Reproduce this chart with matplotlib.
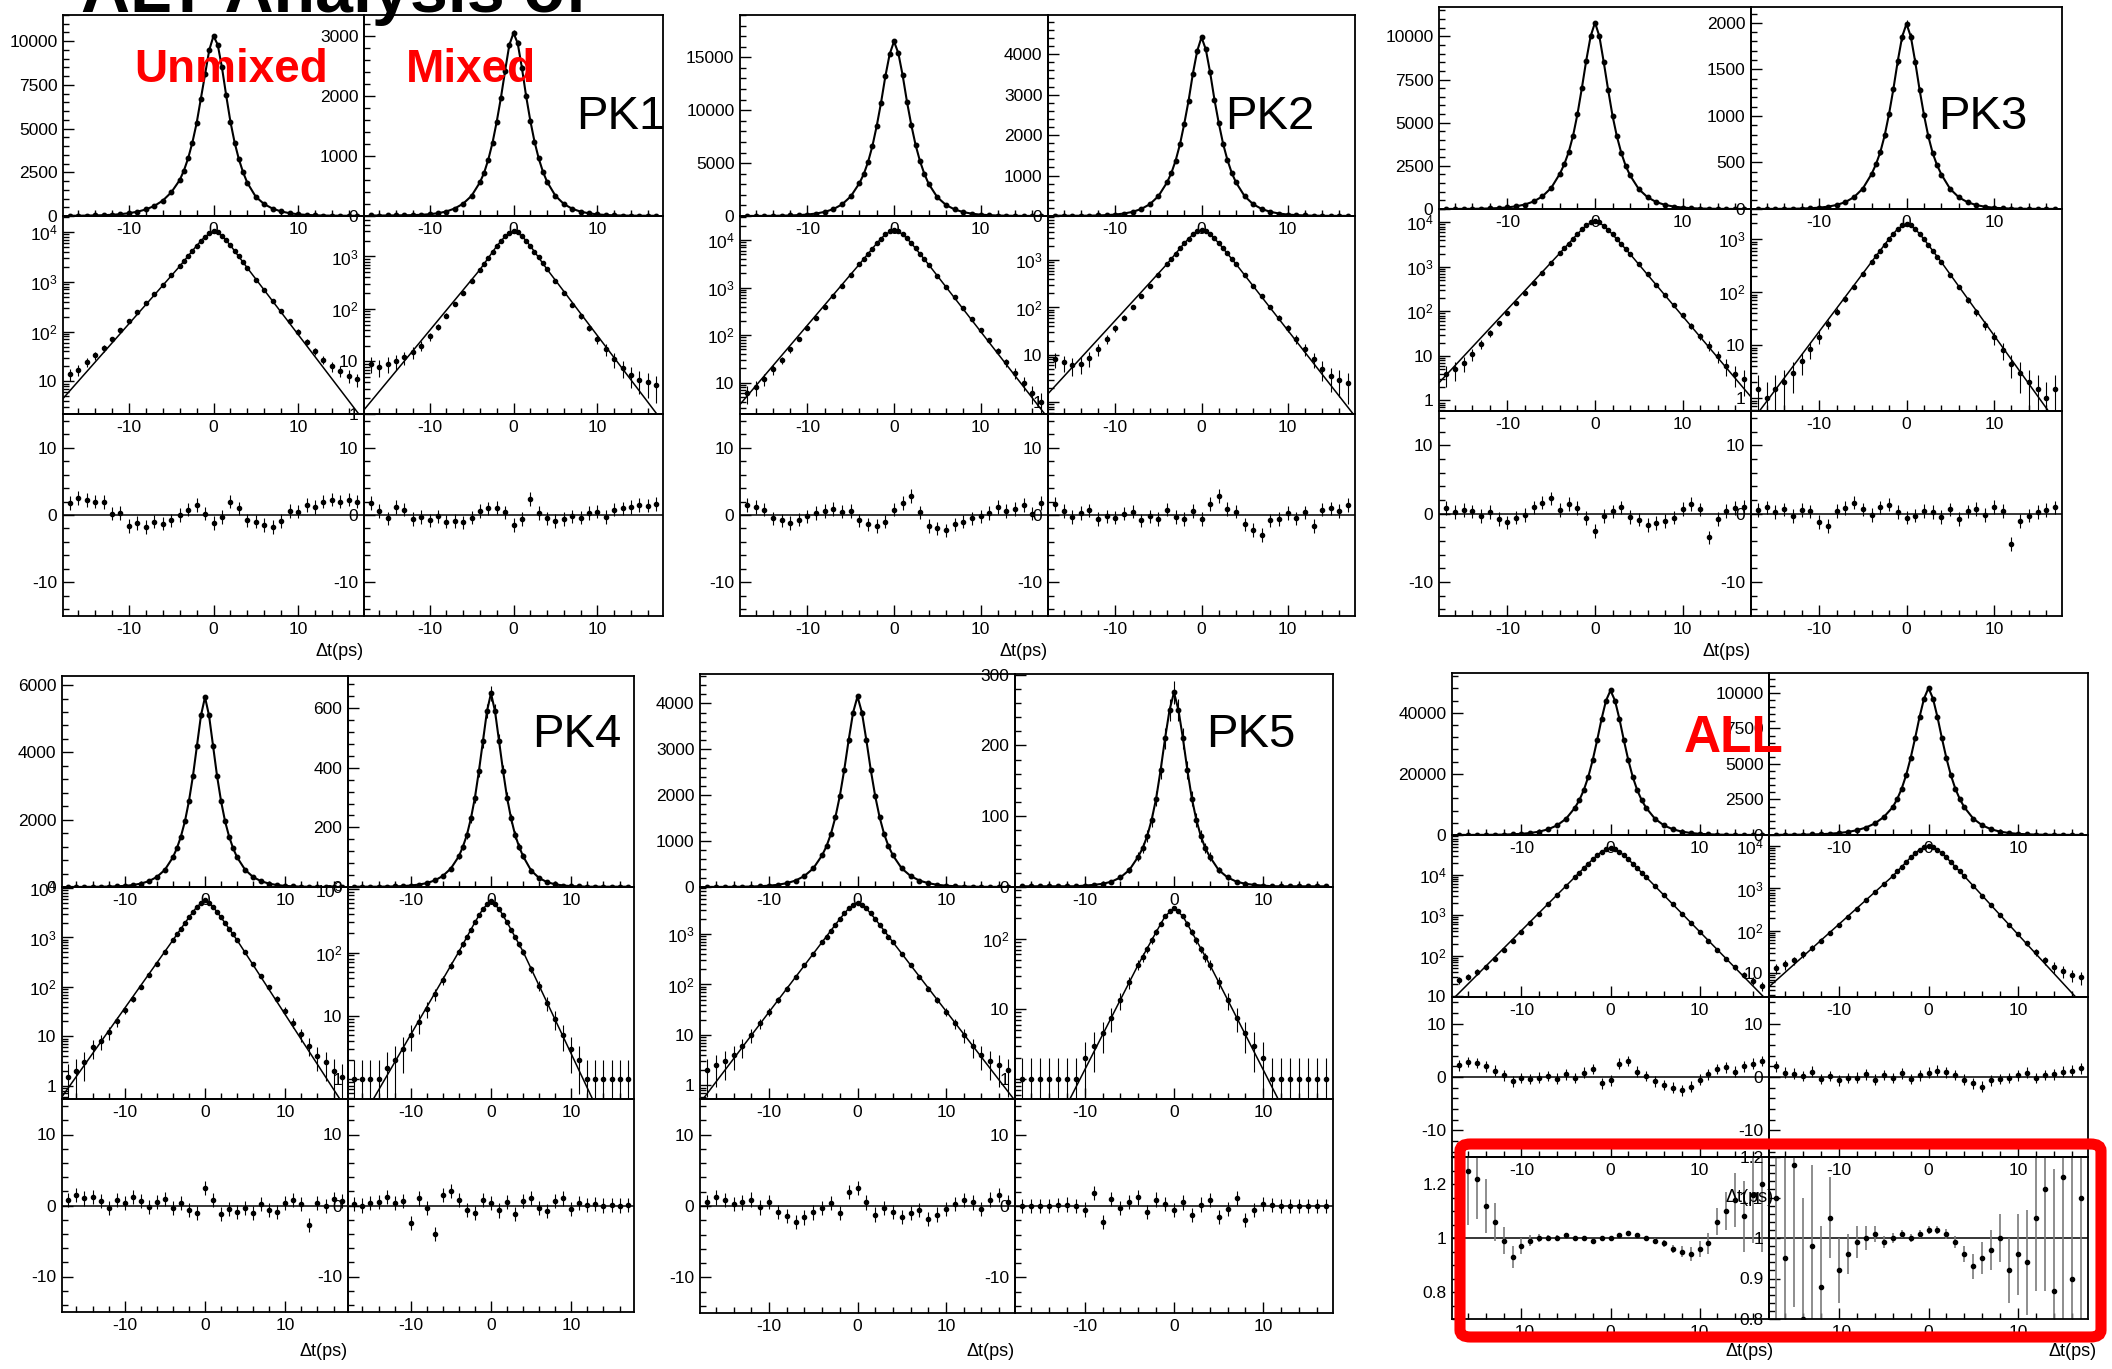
import numpy as np
import matplotlib.pyplot as plt
from matplotlib.ticker import MultipleLocator, LogLocator, FuncFormatter, NullFormatter
from matplotlib.patches import FancyBboxPatch

plt.rcParams['font.family'] = ['Liberation Sans', 'DejaVu Sans']
plt.rcParams['axes.unicode_minus'] = False
plt.rcParams['mathtext.fontset'] = 'custom'
plt.rcParams['mathtext.rm'] = 'Liberation Sans'
plt.rcParams['mathtext.it'] = 'Liberation Sans:italic'

# ---------------- data ----------------
# time bins (ps) of the count histograms
t_cnt = [-17, -16, -15, -14, -13, -12, -11, -10, -9, -8, -7, -6, -5, -4,
         -3.5, -3, -2.5, -2, -1.5, -1, -0.5, 0, 0.5, 1, 1.5, 2, 2.5, 3, 3.5,
         4, 5, 6, 7, 8, 9, 10, 11, 12, 13, 14, 15, 16, 17]
# knots of the fitted curve (straight on the log plots)
t_fit = [-17.8, -4, -2, -1, 0, 1, 2, 4, 17.8]
# time bins of the residual / ratio points
t_res = list(range(-17, 18))

pk1_unmixed = [14, 17, 24, 33, 46, 70, 105, 160, 245, 375, 575, 880, 1350, 2050,
               2600, 3300, 4200, 5300, 6700, 8100, 9500, 10300, 9800, 8500, 6900, 5400, 4200, 3250, 2500,
               1900, 1100, 680, 420, 260, 160, 100, 62, 40, 27, 20, 16, 13, 11]
pk1_mixed = [9, 8, 9, 10, 12, 15, 20, 30, 46, 75, 125, 205, 335, 560,
             720, 940, 1220, 1570, 1970, 2420, 2850, 3050, 2880, 2470, 2000, 1590, 1240, 960, 740,
             570, 335, 200, 120, 72, 44, 27, 17, 11, 7.5, 5.5, 4.5, 4, 3.5]
pk2_unmixed = [6, 8, 12, 19, 30, 50, 84, 140, 235, 390, 650, 1100, 1850, 3100,
               3950, 5100, 6600, 8500, 10700, 13200, 15300, 16500, 15400, 13300, 10800, 8600, 6700, 5200, 4000,
               3050, 1780, 1050, 620, 370, 220, 130, 78, 46, 27, 16, 10, 6, 4]
pk2_mixed = [8, 7, 6, 6.5, 8.5, 13, 22, 36, 61, 102, 172, 290, 490, 830,
             1060, 1370, 1770, 2280, 2850, 3520, 4080, 4420, 4120, 3550, 2880, 2300, 1790, 1390, 1070,
             830, 490, 290, 172, 102, 61, 36, 22, 13, 8, 5, 3.5, 3, 2.5]
pk3_unmixed = [4, 5, 7, 11, 19, 33, 55, 92, 155, 260, 435, 730, 1220, 2050,
               2600, 3300, 4250, 5500, 7000, 8600, 10000, 10800, 10000, 8500, 6900, 5400, 4200, 3250, 2500,
               1950, 1150, 680, 400, 235, 140, 82, 48, 28, 17, 10, 6, 4, 3]
pk3_mixed = [1.5, 1, 1.5, 2, 3, 5, 8.4, 14.5, 25, 43, 74, 128, 220, 375,
             480, 610, 790, 1020, 1290, 1590, 1850, 1990, 1850, 1580, 1280, 1010, 780, 600, 470,
             370, 215, 125, 72, 42, 24, 14, 8, 4.5, 3, 2, 1.5, 1, 1.5]
pk4_unmixed = [1.5, 2, 3, 6, 8, 12, 20, 34, 58, 100, 172, 297, 510, 880,
               1150, 1500, 1950, 2550, 3300, 4200, 5100, 5640, 5100, 4200, 3300, 2550, 1950, 1500, 1150,
               880, 510, 295, 170, 99, 57, 33, 19, 11, 6.5, 4, 3, 2, 1.5]
pk4_mixed = [1, 1, 1, 1, 1.5, 2, 3, 5, 8, 13, 22, 37, 62, 103,
             135, 175, 230, 300, 390, 490, 590, 650, 590, 490, 390, 300, 230, 175, 135,
             103, 55, 30, 16, 9, 5, 3, 2, 1, 1, 1, 1, 1, 1]
pk5_unmixed = [2, 2.5, 3, 4, 6, 10, 17, 29, 49, 83, 140, 240, 405, 690,
               890, 1160, 1520, 1980, 2550, 3200, 3800, 4150, 3800, 3200, 2550, 1980, 1520, 1160, 890,
               690, 405, 240, 140, 83, 49, 29, 17, 10, 6, 4, 3, 2.5, 2]
pk5_mixed = [1, 1, 1, 1, 1, 1, 1, 2, 3, 4.5, 7.5, 13.5, 24, 43,
             55, 72, 95, 125, 165, 210, 250, 275, 250, 210, 165, 125, 95, 72, 55,
             43, 24, 13.5, 7.5, 4.5, 3, 2, 1, 1, 1, 1, 1, 1, 1]
all_unmixed = [25, 30, 40, 52, 85, 140, 235, 390, 660, 1110, 1870, 3150, 5300, 8900,
               11400, 14700, 19000, 24500, 31000, 38000, 44000, 47300, 44000, 38000, 31000, 24500, 19000, 14700, 11400,
               8900, 5300, 3150, 1870, 1110, 660, 390, 235, 140, 85, 52, 34, 24, 18]
all_mixed = [13, 16, 20, 28, 40, 58, 90, 140, 215, 335, 520, 810, 1260, 1950,
             2520, 3250, 4200, 5400, 6800, 8300, 9600, 10350, 9600, 8300, 6800, 5400, 4200, 3250, 2520,
             1950, 1150, 680, 400, 235, 140, 82, 50, 31, 20, 14, 11, 9, 8]

pk1_unmixed_fit = [4.5, 2050, 5300, 8100, 10300, 8500, 5400, 1900, 1.6]
pk1_mixed_fit = [1.2, 560, 1570, 2420, 3050, 2470, 1590, 570, 0.7]
pk2_unmixed_fit = [3.5, 3100, 8500, 13200, 16500, 13300, 8600, 3050, 1.8]
pk2_mixed_fit = [1.5, 830, 2280, 3520, 4420, 3550, 2300, 830, 0.5]
pk3_unmixed_fit = [2.5, 2050, 5500, 8600, 10800, 8500, 5400, 1950, 1.2]
pk3_mixed_fit = [0.35, 375, 1020, 1590, 1990, 1580, 1010, 370, 0.25]
pk4_unmixed_fit = [0.6, 880, 2550, 4200, 5640, 4200, 2550, 880, 0.3]
pk4_mixed_fit = [0.1, 103, 300, 490, 650, 490, 300, 103, 0.02]
pk5_unmixed_fit = [0.45, 690, 1980, 3200, 4150, 3200, 1980, 690, 0.5]
pk5_mixed_fit = [0.015, 43, 125, 210, 275, 210, 125, 43, 0.015]
all_unmixed_fit = [8, 8900, 24500, 38000, 47300, 38000, 24500, 8900, 7]
all_mixed_fit = [4.7, 1950, 5400, 8300, 10350, 8300, 5400, 1950, 1.3]

pk1_unmixed_res = [1.8, 2.5, 2.2, 2.0, 1.9, 0.2, 0.3, -1.6, -1.2, -1.8, -1.0, -1.3, -0.8, 0.0, 0.8, 1.5, 0.2, -1.2,
                   -0.3, 2.0, 1.0, -0.8, -1.0, -1.5, -1.8, -0.9, 0.6, 0.5, 1.5, 1.2, 2.0, 2.3, 2.0, 2.3, 2.0]
pk1_mixed_res = [1.8, 0.6, -0.5, 1.2, 0.8, -0.6, -0.3, -0.8, -0.2, -1.0, -0.9, -1.1, -0.4, 0.6, 1.0, 1.1, 0.4, -1.5,
                 -0.6, 2.4, 0.3, -0.5, -0.9, -0.6, -0.2, -0.4, 0.3, 0.5, -0.3, 0.8, 1.0, 1.2, 1.5, 1.4, 1.6]
pk2_unmixed_res = [1.5, 1.2, 0.8, -0.5, -0.8, -1.2, -0.7, -0.2, 0.3, 0.6, 0.9, 0.5, 0.6, -0.8, -1.4, -1.6, -1.0, 0.8,
                   1.8, 2.8, 0.4, -1.6, -2.0, -2.3, -1.4, -1.0, -0.5, -0.2, 0.3, 1.2, 0.6, 0.9, 1.5, 0.2, 1.8]
pk2_mixed_res = [1.6, 0.6, -0.3, 0.3, 0.7, -0.6, -0.2, -0.4, 0.2, 0.5, -0.8, -0.2, -0.6, 0.8, -0.3, -0.6, 0.6, -0.6,
                 1.6, 2.8, 0.9, 0.5, -1.4, -2.2, -3.0, -0.8, -0.6, 0.3, -0.5, 0.4, -1.6, 0.8, 1.0, 0.6, 1.5]
pk3_unmixed_res = [0.8, 0.2, 0.5, 0.3, -0.4, 0.2, -0.8, -1.3, -0.6, -0.2, 0.9, 1.6, 2.2, 0.5, 1.4, 0.8, -0.7, -2.6,
                   -0.4, 0.3, 0.9, -0.5, -0.9, -1.7, -1.4, -1.1, -0.6, 0.7, 1.4, 0.6, -3.5, -0.8, 0.4, 0.8, 1.0]
pk3_mixed_res = [0.5, 0.9, 0.2, 0.6, -0.4, 0.5, 0.3, -1.2, -1.8, 0.4, 0.8, 1.6, 0.6, -0.2, 0.9, 1.3, 0.2, -0.6,
                 -0.3, 0.4, 0.2, -0.5, 0.6, -0.8, 0.3, 0.7, -0.2, 1.0, 0.4, -4.5, -1.1, -0.3, 0.2, 0.5, 0.9]
pk4_unmixed_res = [0.8, 1.5, 1.0, 1.2, 0.6, -0.4, 0.8, 0.3, 1.2, 0.6, -0.2, 0.5, 0.9, -0.3, 0.4, -0.6, -1.1, 2.5,
                   0.8, -1.2, -0.5, -0.9, -0.3, -1.1, 0.2, -0.6, -0.9, 0.4, 0.8, 0.2, -2.8, 0.3, -0.1, 0.9, 0.6]
pk4_mixed_res = [0.2, 0.0, 0.3, 0.5, 1.2, 0.4, 0.6, -2.5, 1.0, -0.4, -4.0, 1.5, 2.0, 0.8, -0.6, -1.0, 0.8, 0.3,
                 -0.7, 0.5, -1.2, 0.6, 1.1, -0.3, -0.8, 0.6, 1.0, -0.5, 0.3, 0.1, 0.2, 0.0, 0.1, 0.0, 0.1]
pk5_unmixed_res = [0.6, 1.2, 0.8, 0.3, 0.5, 0.9, -0.2, 0.6, -0.8, -1.4, -2.2, -1.6, -0.9, -0.3, 0.4, -1.0, 2.0, 2.5,
                   0.5, -1.2, -0.3, -0.8, -1.5, -1.0, -0.6, -1.8, -1.2, -0.4, 0.3, 0.8, 0.5, -0.4, 0.9, 1.5, 0.6]
pk5_mixed_res = [0.0, 0.0, 0.0, 0.0, 0.1, 0.2, 0.0, -0.5, 1.8, -2.2, 1.0, -0.3, 0.6, 1.2, -0.8, 0.9, 0.3, -0.6,
                 0.5, -1.3, 0.2, 0.8, -1.5, -0.4, 1.1, -2.0, -0.6, 0.3, 0.1, 0.0, 0.0, 0.0, 0.0, 0.0, 0.0]
all_unmixed_res = [2.2, 2.8, 2.6, 2.0, 1.2, 0.3, -0.8, -0.2, -0.4, -0.1, 0.2, -0.3, 0.5, -0.2, 0.8, 1.5, -1.2, -0.6,
                   2.5, 3.0, 1.0, 0.2, -0.8, -1.5, -2.0, -2.5, -1.8, -0.5, 0.5, 1.5, 1.8, 1.0, 2.0, 2.5, 3.0]
all_mixed_res = [2.0, 0.8, 0.6, 0.2, 1.0, -0.4, 0.2, -0.6, -0.2, -0.1, 0.5, -0.5, 0.4, -0.2, 0.7, -0.4, 0.3, 0.8,
                 1.2, 0.9, 0.4, -0.5, -1.2, -1.8, -0.6, -0.4, -0.2, 0.3, 0.8, -0.2, 0.4, 0.5, 1.0, 1.2, 1.6]

# data / fit ratio for the ALL sample (boxed in red)
all_unmixed_ratio = [0.90, 1.25, 1.22, 1.12, 1.06, 0.99, 0.93, 0.97, 0.99, 1.00, 1.00, 1.00, 1.01, 1.00, 1.00, 0.99,
                     1.00, 1.00, 1.01, 1.02, 1.01, 1.00, 0.99, 0.98, 0.96, 0.95, 0.94, 0.96, 0.98, 1.06, 1.10, 1.14,
                     1.08, 1.16, 1.20]
all_unmixed_ratio_err = [0.3, 0.2, 0.15, 0.1, 0.07, 0.05, 0.04, 0.03, 0.02, 0.015, 0.01, 0.01, 0.008, 0.008, 0.006,
                         0.005, 0.005, 0.005, 0.005, 0.005, 0.006, 0.008, 0.01, 0.012, 0.015, 0.02, 0.025, 0.03,
                         0.04, 0.05, 0.07, 0.1, 0.13, 0.18, 0.25]
all_mixed_ratio = [1.1, 0.95, 1.18, 0.8, 0.98, 0.88, 1.05, 0.92, 0.96, 0.99, 1.0, 1.01, 0.99, 1.0, 1.01, 1.0, 1.01,
                   1.02, 1.02, 1.01, 0.99, 0.96, 0.93, 0.95, 0.97, 1.0, 0.92, 0.96, 0.94, 1.05, 1.12, 0.87, 1.15,
                   0.9, 1.1]
all_mixed_ratio_err = [0.5, 0.4, 0.35, 0.3, 0.2, 0.15, 0.1, 0.08, 0.05, 0.04, 0.03, 0.02, 0.015, 0.012, 0.01, 0.01,
                       0.01, 0.01, 0.01, 0.012, 0.015, 0.02, 0.03, 0.04, 0.05, 0.06, 0.08, 0.1, 0.13, 0.18, 0.25,
                       0.3, 0.4, 0.5, 0.5]

# ---------------- layout (pixels of the 2112x1369 slide) ----------------
W, H = 2112, 1369
XLIM = (-17.8, 17.8)
RES_ERR = 1.0  # residuals are in units of sigma
TICK_FS = 12.5


def add_ax(fig, x0, x1, ytop, ybot):
    return fig.add_axes([x0 / W, 1 - ybot / H, (x1 - x0) / W, (ybot - ytop) / H], facecolor='none')


def root_style(ax):
    # ROOT-like frame: ticks inside, only on left and bottom
    for s in ax.spines.values():
        s.set_linewidth(1.3)
    ax.set_xlim(*XLIM)
    ax.xaxis.set_major_locator(MultipleLocator(10))
    ax.xaxis.set_minor_locator(MultipleLocator(2))
    ax.tick_params(which='both', direction='in', top=False, right=False, labelsize=TICK_FS, pad=4, width=1)
    ax.tick_params(which='major', length=8)
    ax.tick_params(which='minor', length=4)


def log_label(v, pos):
    if v == 1:
        return '1'
    if v == 10:
        return '10'
    return r'$10^{%d}$' % int(round(np.log10(v)))


def draw_linear(ax, counts, ylim, major, minor):
    ax.plot(t_cnt, counts, '-', color='k', lw=1.5)
    ax.errorbar(t_cnt, counts, yerr=np.sqrt(counts), fmt='o', ms=3.2, color='k', elinewidth=0.8, capsize=0)
    root_style(ax)
    ax.set_ylim(*ylim)
    ax.yaxis.set_major_locator(MultipleLocator(major))
    ax.yaxis.set_minor_locator(MultipleLocator(minor))


def draw_log(ax, counts, fit, ylim):
    ax.set_yscale('log')
    ax.plot(t_fit, fit, '-', color='k', lw=1.1)
    ax.errorbar(t_cnt, counts, yerr=np.sqrt(counts), fmt='o', ms=3.0, color='k', elinewidth=0.8, capsize=0)
    root_style(ax)
    ax.set_ylim(*ylim)
    ax.yaxis.set_major_locator(LogLocator(base=10, numticks=12))
    ax.yaxis.set_minor_locator(LogLocator(base=10, subs=np.arange(2, 10), numticks=12))
    ax.yaxis.set_major_formatter(FuncFormatter(log_label))
    ax.yaxis.set_minor_formatter(NullFormatter())


def draw_resid(ax, res):
    ax.axhline(0, color='k', lw=1.1)
    ax.errorbar(t_res, res, yerr=RES_ERR, fmt='o', ms=3.0, color='k', elinewidth=0.8, capsize=0)
    root_style(ax)
    ax.set_ylim(-15, 15)
    ax.yaxis.set_major_locator(MultipleLocator(10))
    ax.yaxis.set_minor_locator(MultipleLocator(2))


def draw_ratio(ax, ratio, err, ylim, major, minor):
    ax.axhline(1, color='k', lw=1.1)
    ax.errorbar(t_res, ratio, yerr=err, fmt='o', ms=3.0, color='k', ecolor='#7a7a7a', elinewidth=1.2, capsize=0)
    root_style(ax)
    ax.set_ylim(*ylim)
    ax.yaxis.set_major_locator(MultipleLocator(major))
    ax.yaxis.set_minor_locator(MultipleLocator(minor))
    ax.yaxis.set_major_formatter(FuncFormatter(lambda v, p: '%g' % round(v, 2)))


def main():
    fig = plt.figure(figsize=(W / 100, H / 100), dpi=100)

    # one entry per sample: columns x (left, middle, right), row edges y, then per-column data and axis ranges
    groups = [
        dict(x=(63, 364, 663), y=(15, 216, 414, 616),
             u=(pk1_unmixed, pk1_unmixed_fit, pk1_unmixed_res), m=(pk1_mixed, pk1_mixed_fit, pk1_mixed_res),
             ulin=((0, 11500), 2500, 500), mlin=((0, 3350), 1000, 200),
             ulog=(2.2, 2.1e4), mlog=(1.0, 5900)),
        dict(x=(740, 1048, 1355), y=(15, 216, 414, 616),
             u=(pk2_unmixed, pk2_unmixed_fit, pk2_unmixed_res), m=(pk2_mixed, pk2_mixed_fit, pk2_mixed_res),
             ulin=((0, 19000), 5000, 1000), mlin=((0, 4970), 1000, 200),
             ulog=(2.2, 3.2e4), mlog=(0.56, 8600)),
        dict(x=(1439, 1751, 2062), y=(7, 209, 411, 616),
             u=(pk3_unmixed, pk3_unmixed_fit, pk3_unmixed_res), m=(pk3_mixed, pk3_mixed_fit, pk3_mixed_res),
             ulin=((0, 11700), 2500, 500), mlin=((0, 2170), 500, 100),
             ulog=(0.58, 2.0e4), mlog=(0.57, 3750)),
        dict(x=(62, 348, 634), y=(676, 887, 1099, 1312),
             u=(pk4_unmixed, pk4_unmixed_fit, pk4_unmixed_res), m=(pk4_mixed, pk4_mixed_fit, pk4_mixed_res),
             ulin=((0, 6270), 2000, 400), mlin=((0, 708), 200, 40),
             ulog=(0.54, 1.05e4), mlog=(0.49, 1080)),
        dict(x=(700, 1015, 1333), y=(674, 887, 1099, 1313),
             u=(pk5_unmixed, pk5_unmixed_fit, pk5_unmixed_res), m=(pk5_mixed, pk5_mixed_fit, pk5_mixed_res),
             ulin=((0, 4640), 1000, 200), mlin=((0, 301), 100, 20),
             ulog=(0.54, 8500), mlog=(0.52, 550)),
        dict(x=(1452, 1769, 2088), y=(673, 835, 997, 1157),
             u=(all_unmixed, all_unmixed_fit, all_unmixed_res), m=(all_mixed, all_mixed_fit, all_mixed_res),
             ulin=((0, 53000), 20000, 4000), mlin=((0, 11400), 2500, 500),
             ulog=(9.5, 9.8e4), mlog=(2.7, 1.84e4)),
    ]

    for g in groups:
        x0, xm, x1 = g['x']
        y0, y1, y2, y3 = g['y']
        # left column (unmixed) first so the right column's labels sit on top
        for (xa, xb), data, lin, lg in [((x0, xm), g['u'], g['ulin'], g['ulog']),
                                        ((xm, x1), g['m'], g['mlin'], g['mlog'])]:
            counts, fit, res = data
            draw_linear(add_ax(fig, xa, xb, y0, y1), counts, *lin)
            draw_log(add_ax(fig, xa, xb, y1, y2), counts, fit, lg)
            draw_resid(add_ax(fig, xa, xb, y2, y3), res)

    # extra ratio row of the ALL sample
    draw_ratio(add_ax(fig, 1452, 1769, 1157, 1319), all_unmixed_ratio, all_unmixed_ratio_err, (0.7, 1.3), 0.2, 0.05)
    draw_ratio(add_ax(fig, 1769, 2088, 1157, 1319), all_mixed_ratio, all_mixed_ratio_err, (0.8, 1.2), 0.1, 0.02)

    # axis titles, right aligned at the end of the x axis
    for xr, yc in [(364, 651), (1048, 651), (1751, 651), (348, 1351), (1015, 1351), (1774, 1351), (2097, 1351),
                   (1774, 1198)]:
        fig.text(xr / W, 1 - yc / H, 'Δt(ps)', ha='right', va='center', fontsize=13)

    # slide annotations
    fig.text(81 / W, 1 - 12 / H, 'ALT Analysis of', fontsize=49, fontweight='bold', ha='left', va='baseline')
    red = '#ff0000'
    fig.text(231 / W, 1 - 70 / H, 'Unmixed', color=red, fontsize=33, fontweight='bold', ha='center', va='center')
    fig.text(471 / W, 1 - 70 / H, 'Mixed', color=red, fontsize=33, fontweight='bold', ha='center', va='center')
    fig.text(1734 / W, 1 - 738 / H, 'ALL', color=red, fontsize=37, fontweight='bold', ha='center', va='center')
    for name, xc, yc in [('PK1', 621, 117), ('PK2', 1270, 117), ('PK3', 1983, 117),
                         ('PK4', 577, 735), ('PK5', 1251, 735)]:
        fig.text(xc / W, 1 - yc / H, name, fontsize=34, ha='center', va='center')

    # red frame round the ratio plots
    box = FancyBboxPatch((1460 / W, 1 - 1337 / H), 641 / W, 193 / H, boxstyle='round,pad=0,rounding_size=0.005',
                         transform=fig.transFigure, fill=False, edgecolor=red, lw=8, zorder=10)
    fig.patches.append(box)

    fig.savefig('out.png', dpi=100, facecolor='white')


if __name__ == "__main__":
    main()
